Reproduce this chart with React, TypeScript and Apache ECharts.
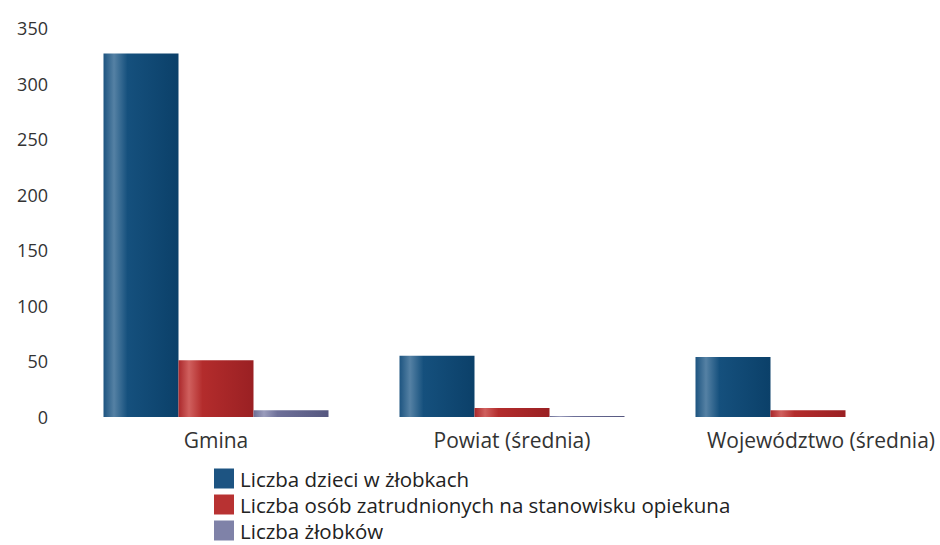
import React, { useEffect, useRef } from "react";
import * as echarts from "echarts";

const categories = ["Gmina", "Powiat (średnia)", "Województwo (średnia)"];
const seriesNames = [
  "Liczba dzieci w żłobkach",
  "Liczba osób zatrudnionych na stanowisku opiekuna",
  "Liczba żłobków",
];
const dzieci = [327, 55, 54];
const opiekunowie = [51, 8, 6];
const zlobki = [6, 1, 0];
const yTicks = [0, 350, 50];

const grad = (c0: string, c1: string, c2: string, c3: string) =>
  new echarts.graphic.LinearGradient(0, 0, 1, 0, [
    { offset: 0, color: c0 },
    { offset: 0.14, color: c1 },
    { offset: 0.32, color: c2 },
    { offset: 1, color: c3 },
  ]);

export default function App() {
  const ref = useRef<HTMLDivElement>(null);
  useEffect(() => {
    document.body.style.margin = "0";
    if (!ref.current) return;
    const chart = echarts.init(ref.current, undefined, { renderer: "svg" });
    const font = "'Open Sans', 'Noto Sans', sans-serif";
    const colors = [
      grad("#1d5480", "#5581a4", "#15507d", "#0b4069"),
      grad("#aa282b", "#d0605e", "#b32c2c", "#9a2023"),
      grad("#6d6f95", "#9a9cbc", "#6e7099", "#55577f"),
    ];
    const legendColors = ["#1d5482", "#b83232", "#7f82a8"];
    const data = [dzieci, opiekunowie, zlobki];
    chart.setOption({
      animation: false,
      backgroundColor: "#ffffff",
      grid: { left: 68, right: 0, top: 28, bottom: 128, containLabel: false },
      legend: {
        orient: "vertical",
        left: 214,
        top: 468,
        height: 80,
        padding: 0,
        itemWidth: 20,
        itemHeight: 20,
        itemGap: 5,
        icon: "rect",
        textStyle: { fontFamily: font, fontSize: 20.5, lineHeight: 20, color: "#222", padding: [0, 0, 0, 1] },
        data: seriesNames.map((n, i) => ({ name: n, itemStyle: { color: legendColors[i] } })),
      },
      xAxis: {
        type: "category",
        data: categories.map((c, i) =>
          i === 2 ? { value: c, textStyle: { padding: [0, 0, 0, 26] } } : c
        ),
        axisLine: { show: false },
        axisTick: { show: false },
        axisLabel: { fontFamily: font, fontSize: 21, color: "#333", margin: 12, interval: 0 },
      },
      yAxis: {
        type: "value",
        min: yTicks[0],
        max: yTicks[1],
        interval: yTicks[2],
        splitLine: { show: false },
        axisLine: { show: false },
        axisTick: { show: false },
        axisLabel: { fontFamily: font, fontSize: 18, color: "#333", margin: 20 },
      },
      series: seriesNames.map((n, i) => ({
        name: n,
        type: "bar",
        data: data[i],
        barWidth: 75,
        barGap: "0%",
        itemStyle: { color: colors[i] },
      })),
    });
    return () => chart.dispose();
  }, []);
  return (
    <div style={{ width: 940, height: 545, overflow: "hidden" }}>
      <div ref={ref} style={{ width: 956, height: 545 }} />
    </div>
  );
}
